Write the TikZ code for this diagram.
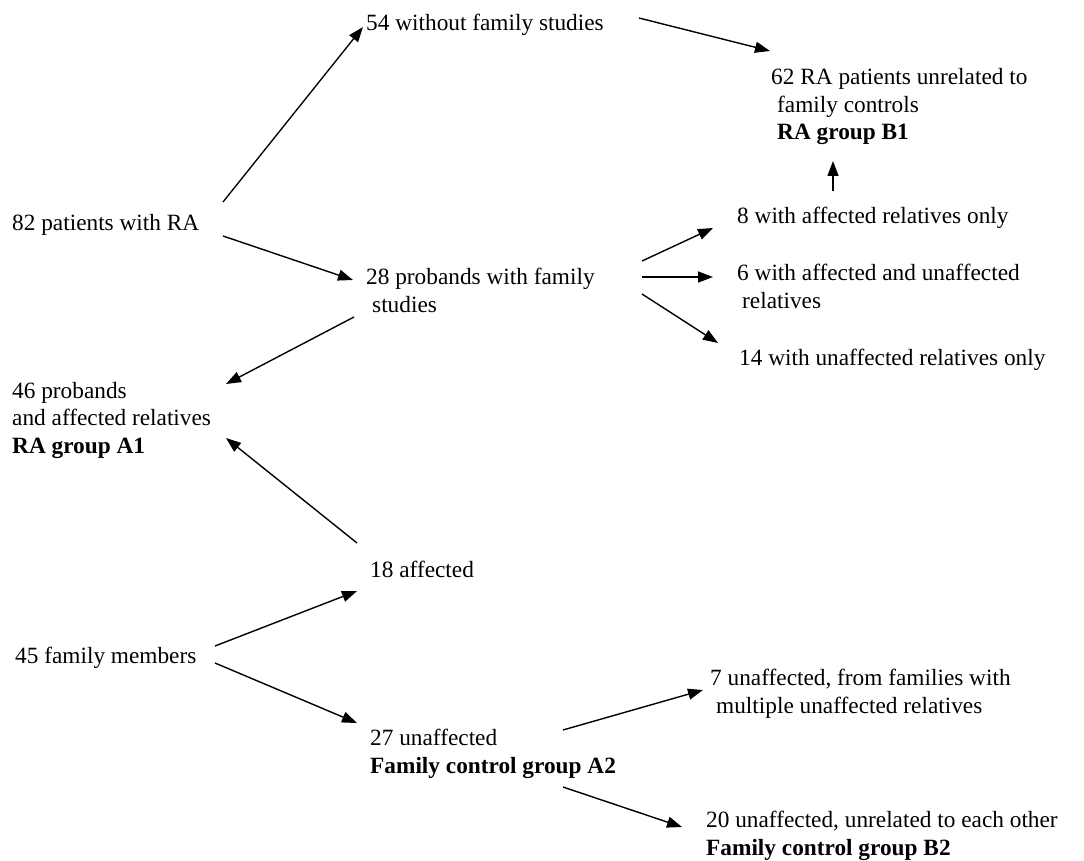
\documentclass[tikz,border=0pt]{standalone}
\usepackage{fontspec}
\setmainfont{Liberation Serif}
\usetikzlibrary{arrows.meta}
\begin{document}
\begin{tikzpicture}[x=1pt,y=-1pt,
  lbl/.style={anchor=base west,inner sep=0pt,align=left,
    font=\fontsize{23.3}{27.5}\selectfont},
  arr/.style={line width=1.4pt,-{Triangle[length=15pt,width=11pt]}}]
\useasboundingbox (0,0) rectangle (1084,861);
% text blocks (multi-line nodes are placed by the baseline of their last line)
\node[lbl] (n54) at (366,31) {54 without family studies};
\node[lbl] (n62) at (771,140) {62 RA patients unrelated to\\\hspace*{6pt}family controls\\\hspace*{6pt}\textbf{RA group B1}};
\node[lbl] (n82) at (12,230) {82 patients with RA};
\node[lbl] (n28) at (366,312) {28 probands with family\\\hspace*{6pt}studies};
\node[lbl] (n8) at (737,224) {8 with affected relatives only};
\node[lbl] (n6) at (737,308) {6 with affected and unaffected\\\hspace*{5pt}relatives};
\node[lbl] (n14) at (739,365) {14 with unaffected relatives only};
\node[lbl] (n46) at (12,453) {46 probands\\and affected relatives\\\textbf{RA group A1}};
\node[lbl] (n18) at (370,577) {18 affected};
\node[lbl] (n45) at (15,663) {45 family members};
\node[lbl] (n27) at (370,773) {27 unaffected\\\textbf{Family control group A2}};
\node[lbl] (n7) at (710,713) {7 unaffected, from families with\\\hspace*{6pt}multiple unaffected relatives};
\node[lbl] (n20) at (706,855) {20 unaffected, unrelated to each other\\\textbf{Family control group B2}};
% connector ends
\coordinate (a1s) at (223,202); \coordinate (a1e) at (363,27);
\coordinate (a2s) at (223,236); \coordinate (a2e) at (353,280);
\coordinate (a3s) at (639,18);  \coordinate (a3e) at (770,51);
\coordinate (a4s) at (354,317); \coordinate (a4e) at (226,384);
\coordinate (a5s) at (642,261); \coordinate (a5e) at (713,228);
\coordinate (a6s) at (642,277); \coordinate (a6e) at (713,277);
\coordinate (a7s) at (642,294); \coordinate (a7e) at (718,343);
\coordinate (a8s) at (833,191); \coordinate (a8e) at (833,161);
\coordinate (a9s) at (357,543); \coordinate (a9e) at (226,438);
\coordinate (a10s) at (215,646); \coordinate (a10e) at (357,591);
\coordinate (a11s) at (215,663); \coordinate (a11e) at (357,723);
\coordinate (a12s) at (563,730); \coordinate (a12e) at (703,690);
\coordinate (a13s) at (563,787); \coordinate (a13e) at (682,827);
\foreach \i in {1,...,13} {\draw[arr] (a\i s) -- (a\i e);}
\end{tikzpicture}
\end{document}
